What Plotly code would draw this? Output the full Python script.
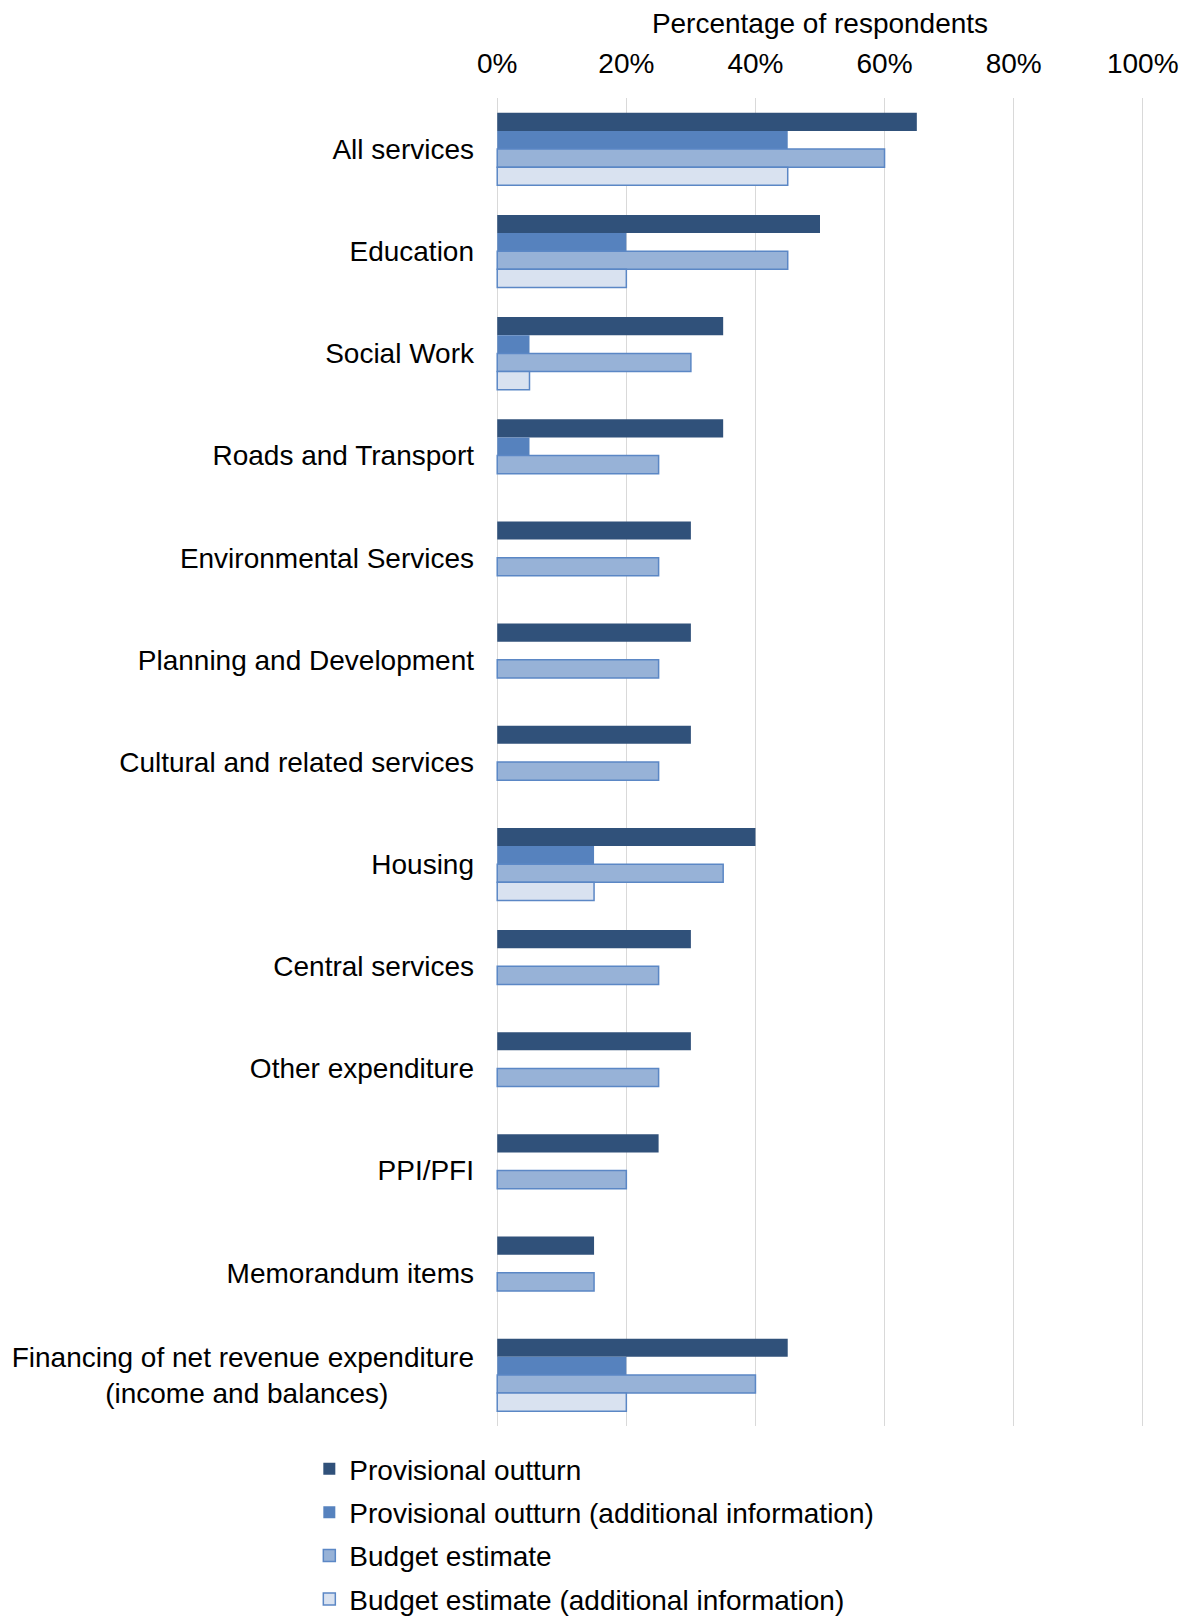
import plotly.graph_objects as go

categories = [
    "All services", "Education", "Social Work", "Roads and Transport",
    "Environmental Services", "Planning and Development",
    "Cultural and related services", "Housing", "Central services",
    "Other expenditure", "PPI/PFI", "Memorandum items",
    "Financing of net revenue expenditure (income and balances)",
]
tick_labels = categories[:-1] + [
    "Financing of net revenue expenditure<br>(income and balances)"
    + "\u00a0" * 11,
]
provisional = [65, 50, 35, 35, 30, 30, 30, 40, 30, 30, 25, 15, 45]
provisional_add = [45, 20, 5, 5, 0, 0, 0, 15, 0, 0, 0, 0, 20]
budget = [60, 45, 30, 25, 25, 25, 25, 35, 25, 25, 20, 15, 40]
budget_add = [45, 20, 5, 0, 0, 0, 0, 15, 0, 0, 0, 0, 20]

series_names = [
    "Provisional outturn",
    "Provisional outturn (additional information)",
    "Budget estimate",
    "Budget estimate (additional information)",
]
series_values = [provisional, provisional_add, budget, budget_add]
fills = ["#30517A", "#5682BE", "#97B2D7", "#D9E2F0"]
borders = ["#30517A", "#5682BE", "#5B87C5", "#5B87C5"]
border_w = [0, 0, 1.5, 1.5]

FONT = "Liberation Sans, Arial, sans-serif"
FS = 28

fig = go.Figure()
for name, vals, f, b, w in zip(series_names, series_values, fills, borders, border_w):
    fig.add_trace(go.Bar(
        y=categories, x=[v if v else None for v in vals], name=name,
        orientation="h", legendgroup=name,
        marker=dict(color=f, line=dict(color=b, width=w)),
    ))

fig.update_layout(
    width=1191, height=1619,
    barmode="group", bargap=0.29, bargroupgap=0,
    plot_bgcolor="white", paper_bgcolor="white",
    margin=dict(l=486, r=53, t=90, b=201, autoexpand=False),
    font=dict(family=FONT, size=FS, color="black"),
    xaxis=dict(
        side="top", range=[-0.5, 100.5], tickvals=[0, 20, 40, 60, 80, 100],
        ticktext=["0%", "20%", "40%", "60%", "80%", "100%"],
        showgrid=True, gridcolor="#D9D9D9", gridwidth=1,
        zeroline=False, showline=False, ticks="", tickangle=0,
        automargin=False, ticklabelstandoff=18,
        title=dict(text="Percentage of respondents", standoff=8,
                   font=dict(size=FS)),
        tickfont=dict(size=FS),
    ),
    yaxis=dict(
        autorange="reversed", showgrid=False, showline=False,
        tickvals=categories, ticktext=tick_labels,
        ticks="", ticklabelstandoff=19, tickfont=dict(size=FS),
        automargin=False,
    ),
    legend=dict(
        xref="container", yref="container", x=0.253, y=0.113,
        xanchor="left", yanchor="top", orientation="v",
        traceorder="grouped", font=dict(size=FS), tracegroupgap=4,
    ),
    showlegend=True,
)

fig.write_html("out.html")
